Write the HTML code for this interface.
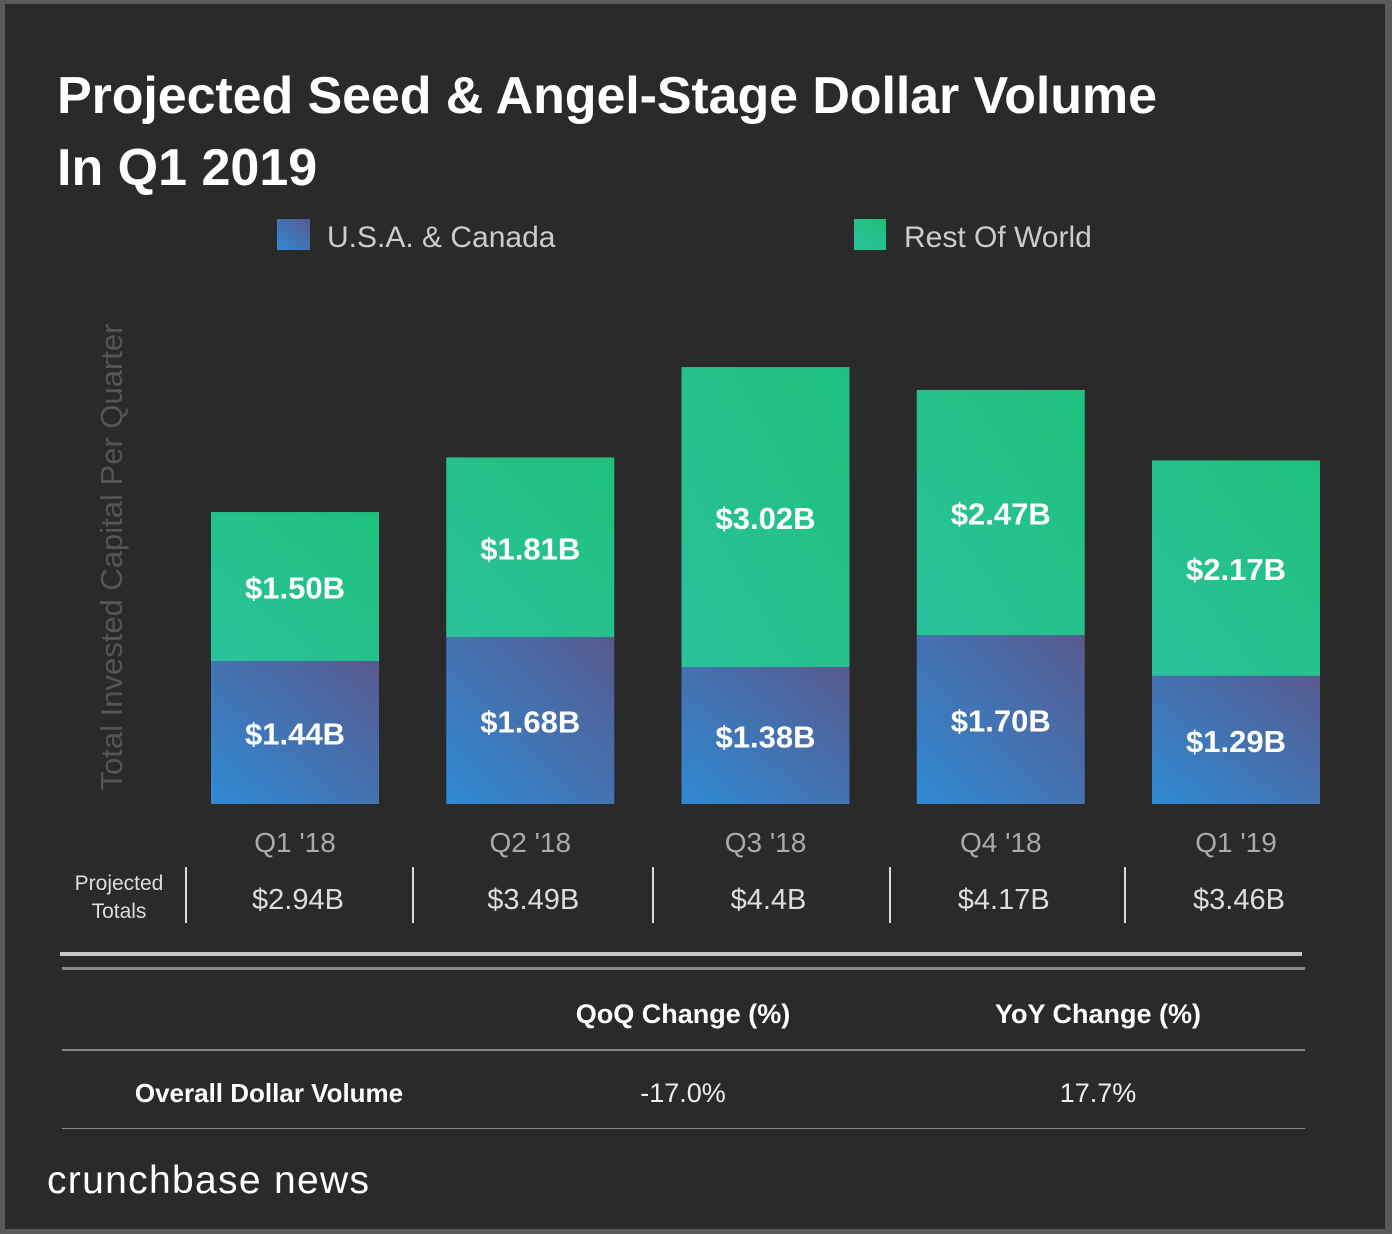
<!DOCTYPE html>
<html><head><meta charset="utf-8"><style>
html,body{margin:0;padding:0;background:#2a2a2a}
svg{display:block}
text{font-family:"Liberation Sans",sans-serif}
</style></head><body>
<svg width="1392" height="1234" viewBox="0 0 1392 1234" xmlns="http://www.w3.org/2000/svg">
<defs>
<linearGradient id="gB" x1="0" y1="1" x2="1" y2="0"><stop offset="0" stop-color="#2f8ad4"/><stop offset="1" stop-color="#585a8e"/></linearGradient>
<linearGradient id="gG" x1="0" y1="1" x2="1" y2="0"><stop offset="0" stop-color="#2bc29c"/><stop offset="1" stop-color="#1fc07c"/></linearGradient>
</defs>
<rect x="0" y="0" width="1392" height="1234" fill="#5a5a5a"/>
<rect x="5" y="4" width="1380" height="1225" fill="#2a2a2a"/>
<text x="57" y="113" fill="#fff" font-size="52" font-weight="bold" textLength="1100">Projected Seed &amp; Angel-Stage Dollar Volume</text>
<text x="57" y="185" fill="#fff" font-size="52" font-weight="bold">In Q1 2019</text>
<g>
<rect x="277" y="219" width="33" height="31" fill="url(#gB)"/>
<text x="327" y="247" fill="#ccc" font-size="30">U.S.A. &amp; Canada</text>
<rect x="854" y="219" width="32" height="31" fill="url(#gG)"/>
<text x="904" y="247" fill="#ccc" font-size="30">Rest Of World</text>
</g>
<text transform="translate(122,557) rotate(-90)" text-anchor="middle" fill="#555" font-size="31">Total Invested Capital Per Quarter</text>
<g id="bars"></g>
<rect x="60" y="952" width="1242" height="4" fill="#c8c8c8"/>
<rect x="62" y="967" width="1243" height="3" fill="#888"/>
<text x="119" y="890" text-anchor="middle" fill="#ddd" font-size="21">Projected</text>
<text x="119" y="918" text-anchor="middle" fill="#ddd" font-size="21">Totals</text>
<text x="683" y="1023" text-anchor="middle" fill="#fff" font-size="27" font-weight="bold">QoQ Change (%)</text>
<text x="1098" y="1023" text-anchor="middle" fill="#fff" font-size="27" font-weight="bold">YoY Change (%)</text>
<rect x="62" y="1049" width="1243" height="2" fill="#888"/>
<text x="269" y="1102" text-anchor="middle" fill="#fff" font-size="26" font-weight="bold">Overall Dollar Volume</text>
<text x="683" y="1102" text-anchor="middle" fill="#eee" font-size="27">-17.0%</text>
<text x="1098" y="1102" text-anchor="middle" fill="#eee" font-size="27">17.7%</text>
<rect x="62" y="1128" width="1243" height="1" fill="#888"/>
<text x="47" y="1193" fill="#fff" font-size="39" letter-spacing="1" textLength="323">crunchbase news</text>
</svg>
<script>
const categories = ["Q1 '18","Q2 '18","Q3 '18","Q4 '18","Q1 '19"];
const usaValues = [1.44,1.68,1.38,1.70,1.29];
const rowValues = [1.50,1.81,3.02,2.47,2.17];
const totalLabels = ["$2.94B","$3.49B","$4.4B","$4.17B","$3.46B"];

const NS="http://www.w3.org/2000/svg";
const g=document.getElementById('bars');
const baseY=804, pxPerB=99.3, x0=211, step=235.25, bw=168;
const yScale=v=>baseY-v*pxPerB;
const xScale=i=>x0+i*step;
function mk(tag,attrs){const e=document.createElementNS(NS,tag);for(const k in attrs)e.setAttribute(k,attrs[k]);return e;}
const divX=[185,412,652,889,1124];
divX.forEach(x=>{
  const l=mk('rect',{x:x,y:867,width:2,height:56,fill:'#ddd'});
  
  
  g.appendChild(l);
});
categories.forEach((c,i)=>{
  const x=xScale(i), u=usaValues[i], r=rowValues[i];
  const yU=yScale(u), yT=yScale(u+r);
  const b1=mk('rect',{x:x,y:yU,width:bw,height:baseY-yU,fill:'url(#gB)'});
  
  
  g.appendChild(b1);
  const b2=mk('rect',{x:x,y:yT,width:bw,height:yU-yT,fill:'url(#gG)'});
  
  
  g.appendChild(b2);
  const t1=mk('text',{x:x+bw/2,y:(yU+baseY)/2+12,'text-anchor':'middle',fill:'#fff','font-size':31,'font-weight':'bold'});
  t1.textContent='$'+u.toFixed(2)+'B';
  
  
  g.appendChild(t1);
  const t2=mk('text',{x:x+bw/2,y:(yT+yU)/2+12,'text-anchor':'middle',fill:'#fff','font-size':31,'font-weight':'bold'});
  t2.textContent='$'+r.toFixed(2)+'B';
  
  
  g.appendChild(t2);
  const t3=mk('text',{x:x+bw/2,y:852,'text-anchor':'middle',fill:'#aaa','font-size':28});
  t3.textContent=c;
  
  
  g.appendChild(t3);
  const t4=mk('text',{x:x+bw/2+3,y:909,'text-anchor':'middle',fill:'#ddd','font-size':29});
  t4.textContent=totalLabels[i];
  
  
  g.appendChild(t4);
});
</script>
</body></html>
